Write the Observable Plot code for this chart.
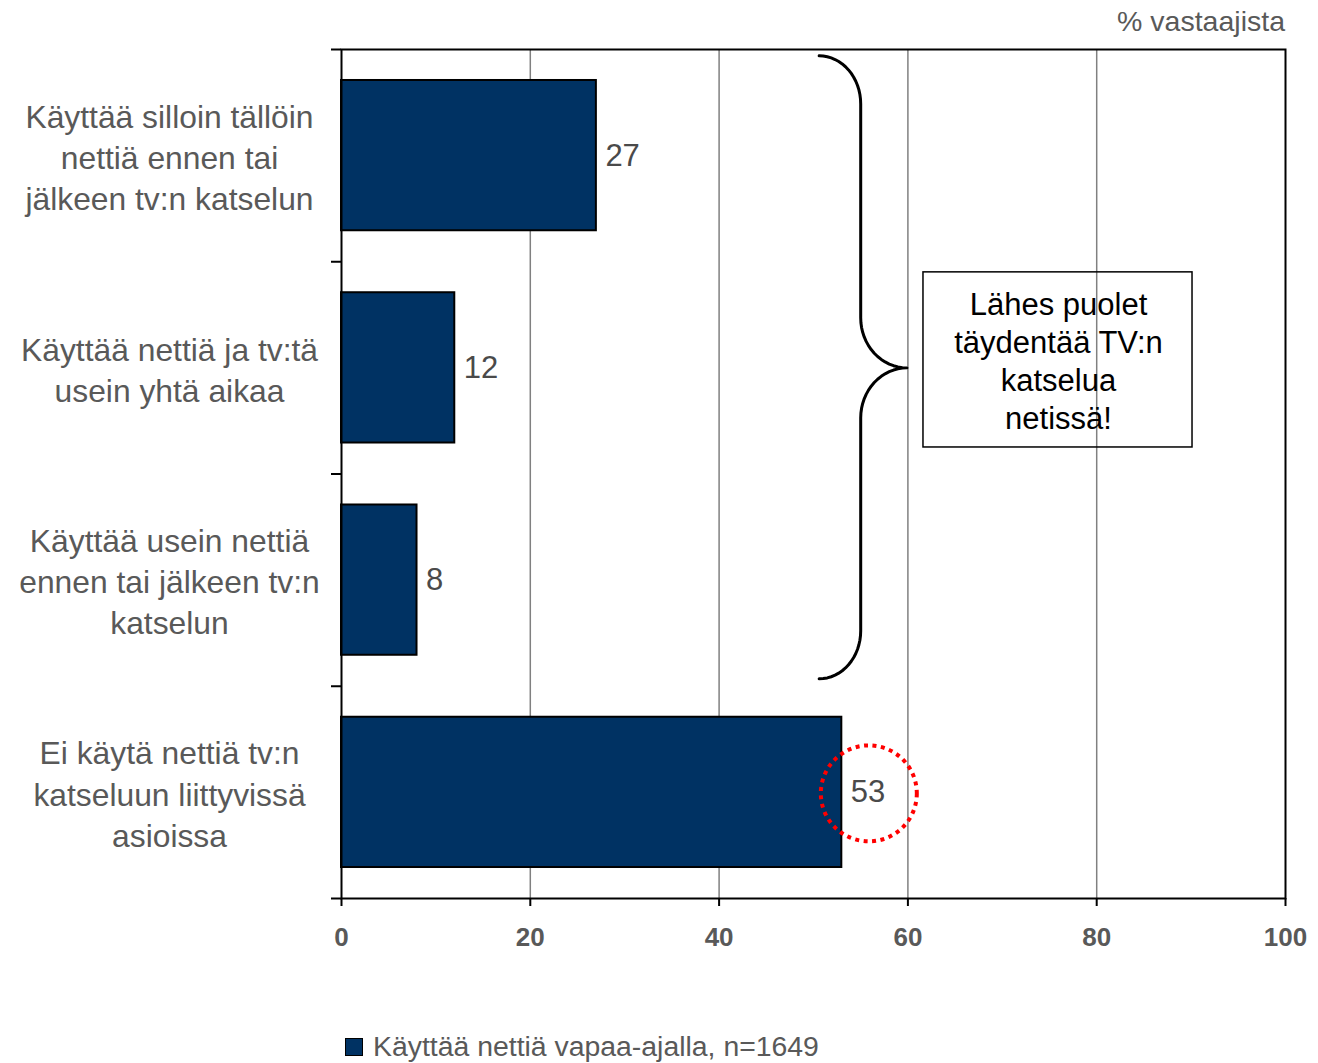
<!DOCTYPE html>
<html><head><meta charset="utf-8">
<script src="https://cdn.jsdelivr.net/npm/d3@7"></script>
<script src="https://cdn.jsdelivr.net/npm/@observablehq/plot@0.6"></script>
<style>
body{margin:0;background:#fff;font-family:"Liberation Sans",Arial,sans-serif;width:1318px;height:1063px;position:relative;overflow:hidden;}
#head{position:absolute;right:33px;top:5px;font-size:28.5px;color:#595959;white-space:nowrap;}
#chart{position:absolute;left:0;top:40px;}
#legend{position:absolute;left:345px;top:1030px;font-size:28.4px;color:#595959;white-space:nowrap;display:flex;align-items:center;}
#legend .sw{display:inline-block;width:16px;height:16px;background:#003263;border:1.5px solid #000;margin-right:10px;}
</style></head><body>
<div id="head">% vastaajista</div>
<div id="chart"></div>
<div id="legend"><span class="sw"></span><span id="legtext"></span></div>
<script>
const categories = [
  "Käyttää silloin tällöin\nnettiä ennen tai\njälkeen tv:n katselun",
  "Käyttää nettiä ja tv:tä\nusein yhtä aikaa",
  "Käyttää usein nettiä\nennen tai jälkeen tv:n\nkatselun",
  "Ei käytä nettiä tv:n\nkatseluun liittyvissä\nasioissa"
];
const values = [27, 12, 8, 53];
const xTicks = [0, 20, 40, 60, 80, 100];
const seriesName = "Käyttää nettiä vapaa-ajalla, n=1649";
const unitLabel = "% vastaajista";
const calloutText = "Lähes puolet\ntäydentää TV:n\nkatselua\nnetissä!";
const highlightedCategory = categories[3];

document.getElementById("legtext").textContent = seriesName;
document.getElementById("head").textContent = unitLabel;

const pad = 0.146;
const rows = categories.map((c, i) => ({label: c, value: values[i], y1: i + pad, y2: i + 1 - pad, yc: i + 0.5}));

// brace annotation (data units)
const tipX = 50.6, spineX = 55.0, pointX = 59.9;
const yTop = 0.03, yMid = 1.5, yBot = 2.965, r1 = 0.226, r2 = 0.236;
const brace = [];
const N = 16;
for (let k = 0; k <= N; k++) { const t = Math.PI / 2 * k / N; brace.push({x: tipX + (spineX - tipX) * Math.sin(t), y: yTop + r1 - r1 * Math.cos(t)}); }
for (let k = 0; k <= N; k++) { const t = Math.PI / 2 * k / N; brace.push({x: pointX - (pointX - spineX) * Math.cos(t), y: yMid - r2 + r2 * Math.sin(t)}); }
for (let k = N; k >= 0; k--) { const t = Math.PI / 2 * k / N; brace.push({x: pointX - (pointX - spineX) * Math.cos(t), y: yMid + r2 - r2 * Math.sin(t)}); }
for (let k = 0; k <= N; k++) { const t = Math.PI / 2 * k / N; brace.push({x: tipX + (spineX - tipX) * Math.cos(t), y: yBot - r1 + r1 * Math.sin(t)}); }

const box = [{x1: 61.65, x2: 90.15, y1: 1.05, y2: 1.875, cx: 75.95, cy: 1.463}];

const chart = Plot.plot({
  width: 1318,
  height: 918,
  marginLeft: 341,
  marginRight: 33,
  marginTop: 9,
  marginBottom: 60,
  style: {fontFamily: "'Liberation Sans', Arial, sans-serif", background: "transparent", overflow: "visible"},
  x: {domain: [0, 100]},
  y: {domain: [0, 4], reverse: true},
  marks: [
    Plot.ruleX([20, 40, 60, 80], {stroke: "#808080", strokeWidth: 1.5}),
    Plot.rect(rows, {x1: 0, x2: "value", y1: "y1", y2: "y2", fill: "#003263", stroke: "#000", strokeWidth: 2}),
    Plot.frame({stroke: "#000", strokeWidth: 2}),
    Plot.axisY({ticks: [0, 1, 2, 3, 4], tickSize: 10, tickFormat: () => "", stroke: "#000", strokeWidth: 2, label: null}),
    Plot.axisX({ticks: xTicks, tickSize: 8, tickPadding: 21, stroke: "#000", strokeWidth: 2, fill: "#595959", fontSize: 26, fontWeight: "bold", label: null}),
    Plot.text(rows, {frameAnchor: "left", y: "yc", text: "label", dx: -172, textAnchor: "middle", fontSize: 31.8, lineHeight: 1.29, fill: "#595959"}),
    Plot.text(rows, {x: "value", y: "yc", text: d => String(d.value), dx: 9, textAnchor: "start", fontSize: 31, fill: "#4a4a4a"}),
    Plot.dot(rows.filter(d => d.label === highlightedCategory), {x: "value", y: "yc", dx: 27, dy: 1, r: 48, fill: "none", stroke: "#ff0000", strokeWidth: 4, strokeDasharray: "4 4.5"}),
    Plot.line(brace, {x: "x", y: "y", stroke: "#000", strokeWidth: 3, curve: "linear"}),
    Plot.rect(box, {x1: "x1", x2: "x2", y1: "y1", y2: "y2", fill: "none", stroke: "#000", strokeWidth: 1.5}),
    Plot.text(box, {x: "cx", y: "cy", text: () => calloutText, fontSize: 31, lineHeight: 1.22, fill: "#000", textAnchor: "middle"})
  ]
});
document.getElementById("chart").appendChild(chart);
</script>
</body></html>
